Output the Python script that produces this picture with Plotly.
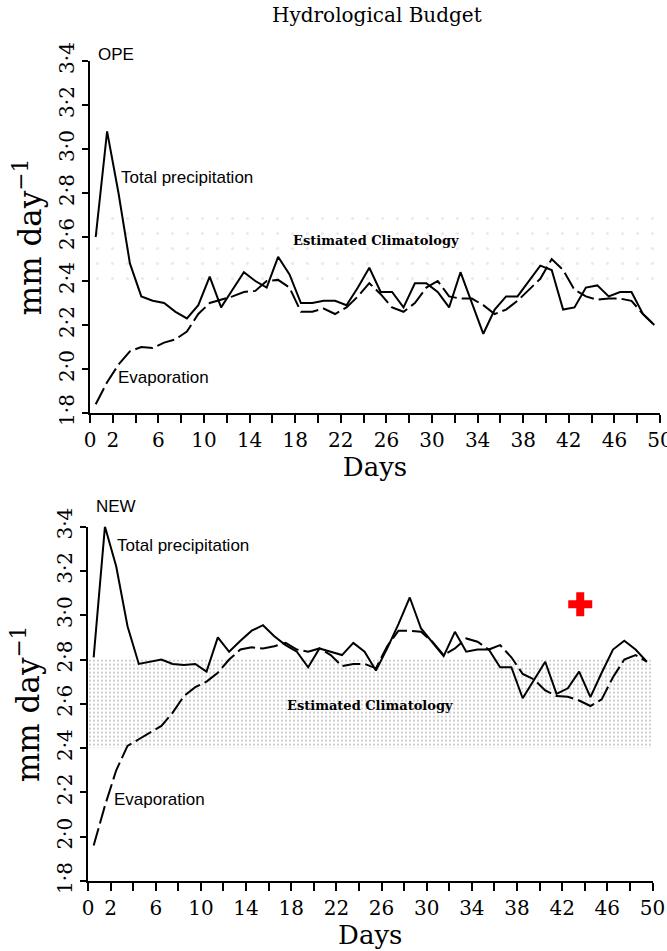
import plotly.graph_objects as go

# Day centres of the daily means
days = [i + 0.5 for i in range(50)]

# OPE experiment (mm/day)
ope_precip = [2.60, 3.08, 2.80, 2.48, 2.33, 2.31, 2.30, 2.26, 2.23, 2.29,
              2.42, 2.28, 2.36, 2.44, 2.40, 2.37, 2.51, 2.43, 2.30, 2.30,
              2.31, 2.31, 2.29, 2.37, 2.46, 2.35, 2.35, 2.28, 2.39, 2.39,
              2.35, 2.28, 2.44, 2.30, 2.16, 2.27, 2.33, 2.33, 2.40, 2.47,
              2.45, 2.27, 2.28, 2.37, 2.38, 2.33, 2.35, 2.35, 2.25, 2.20]
ope_evap = [1.84, 1.94, 2.02, 2.08, 2.10, 2.095, 2.12, 2.135, 2.17, 2.25,
            2.30, 2.315, 2.33, 2.35, 2.355, 2.40, 2.405, 2.37, 2.26, 2.26,
            2.275, 2.25, 2.28, 2.33, 2.39, 2.34, 2.28, 2.26, 2.30, 2.37,
            2.40, 2.33, 2.32, 2.32, 2.29, 2.25, 2.27, 2.31, 2.36, 2.41,
            2.50, 2.45, 2.36, 2.33, 2.315, 2.32, 2.32, 2.31, 2.25, 2.20]

# NEW experiment (mm/day)
new_precip = [2.81, 3.40, 3.22, 2.95, 2.78, 2.79, 2.80, 2.78, 2.775, 2.78,
              2.745, 2.90, 2.835, 2.885, 2.93, 2.955, 2.905, 2.865, 2.835, 2.765,
              2.85, 2.835, 2.82, 2.875, 2.835, 2.75, 2.85, 2.96, 3.08, 2.94,
              2.88, 2.815, 2.925, 2.835, 2.845, 2.845, 2.765, 2.765, 2.625, 2.71,
              2.79, 2.645, 2.67, 2.745, 2.63, 2.74, 2.845, 2.885, 2.845, 2.79]
new_evap = [1.96, 2.14, 2.30, 2.41, 2.44, 2.47, 2.50, 2.56, 2.635, 2.675,
            2.70, 2.74, 2.80, 2.845, 2.855, 2.85, 2.86, 2.875, 2.845, 2.835,
            2.85, 2.82, 2.77, 2.78, 2.78, 2.76, 2.86, 2.93, 2.93, 2.925,
            2.88, 2.82, 2.85, 2.895, 2.88, 2.845, 2.865, 2.81, 2.735, 2.71,
            2.66, 2.635, 2.632, 2.615, 2.59, 2.62, 2.72, 2.80, 2.82, 2.79]

# Estimated climatology ranges (low, high) for each panel
clim_ope = [2.40, 2.70]
clim_new = [2.40, 2.80]

# Red cross marker in the lower panel
cross_day = [43.6]
cross_val = [3.05]

y_ticks = [1.8 + 0.2 * i for i in range(9)]
y_text = [f"{v:.1f}".replace(".", "\u00b7") for v in y_ticks]
x_ticks = list(range(0, 51, 2))
x_labelled = [0] + list(range(2, 51, 4))
x_text = [str(v) if v in x_labelled else "" for v in x_ticks]

SERIF = "DejaVu Serif"
SANS = "Liberation Sans"

fig = go.Figure()


def band(lo_hi, xa, ya, fg, size, solidity):
    lo, hi = lo_hi
    fig.add_trace(go.Scatter(
        x=[0, 50, 50, 0, 0], y=[lo, lo, hi, hi, lo],
        xaxis=xa, yaxis=ya, mode="lines", fill="toself",
        line=dict(width=0), fillcolor="rgba(0,0,0,0)",
        fillpattern=dict(shape=".", fgcolor=fg, bgcolor="rgba(0,0,0,0)",
                         size=size, solidity=solidity),
        hoverinfo="skip", showlegend=False))


band(clim_ope, "x", "y", "#d6d6d6", 15, 0.035)
band(clim_new, "x2", "y2", "#808080", 4, 0.2)

for xa, ya, p, e in (("x", "y", ope_precip, ope_evap),
                     ("x2", "y2", new_precip, new_evap)):
    fig.add_trace(go.Scatter(x=days, y=p, xaxis=xa, yaxis=ya, mode="lines",
                             line=dict(color="black", width=2),
                             showlegend=False))
    fig.add_trace(go.Scatter(x=days, y=e, xaxis=xa, yaxis=ya, mode="lines",
                             line=dict(color="black", width=2, dash="18px,5px"),
                             showlegend=False))

fig.add_trace(go.Scatter(x=cross_day, y=cross_val, xaxis="x2", yaxis="y2",
                         mode="markers",
                         marker=dict(symbol="cross", size=20, color="red",
                                     line=dict(width=0)),
                         showlegend=False))

H = 951.0
W = 667.0


def ydom(top_px, bot_px):
    return [(H - bot_px) / H, (H - top_px) / H]


xaxis_common = dict(
    range=[0, 50], tickvals=x_ticks, ticktext=x_text, ticks="outside",
    ticklen=8, tickwidth=1.5, tickcolor="black", showline=True,
    linecolor="black", linewidth=1.5, showgrid=False, zeroline=False,
    automargin=False, ticklabeloverflow="allow",
    tickfont=dict(family=SERIF, size=20, color="black"),
    title=dict(text="Days", font=dict(family=SERIF, size=26, color="black"),
               standoff=2),
)
yaxis_common = dict(
    range=[1.8, 3.4], tickvals=y_ticks, ticktext=y_text, ticks="outside",
    ticklen=6, tickwidth=1.5, tickcolor="black", showline=True,
    linecolor="black", linewidth=2, showgrid=False, zeroline=False,
    tickangle=-90, automargin=False, ticklabeloverflow="allow",
    tickfont=dict(family=SERIF, size=20, color="black"),
    title=dict(text="mm day<sup>\u22121</sup>",
               font=dict(family=SERIF, size=31, color="black"), standoff=4),
)

fig.update_layout(
    width=667, height=951, autosize=False,
    margin=dict(l=0, r=0, t=0, b=0, autoexpand=False),
    paper_bgcolor="white", plot_bgcolor="white",
    xaxis=dict(domain=[90 / W, 660 / W], anchor="y", **xaxis_common),
    yaxis=dict(domain=ydom(61, 413), anchor="x", **yaxis_common),
    xaxis2=dict(domain=[88 / W, 652.5 / W], anchor="y2", **xaxis_common),
    yaxis2=dict(domain=ydom(526.6, 881), anchor="x2", **yaxis_common),
)

ann_sans = dict(family=SANS, size=17, color="black")
ann_clim = dict(family=SERIF, size=13, color="black", weight="bold")


def label(text, x, y, font, xanchor="left"):
    fig.add_annotation(text=text, x=x / W, y=1 - y / H, xref="paper",
                       yref="paper", showarrow=False, font=font,
                       xanchor=xanchor, yanchor="middle")


fig.add_annotation(text="Hydrological Budget", x=377 / W, y=1 - 15 / H,
                   xref="paper", yref="paper", showarrow=False,
                   font=dict(family=SERIF, size=20, color="black"),
                   xanchor="center", yanchor="middle")

label("OPE", 96, 55, ann_sans)
label("Total precipitation", 119, 178, ann_sans)
label("Estimated Climatology", 376, 240, ann_clim, "center")
label("Evaporation", 116, 377, ann_sans)

label("NEW", 94, 506, ann_sans)
label("Total precipitation", 115, 545, ann_sans)
label("Estimated Climatology", 370, 705, ann_clim, "center")
label("Evaporation", 112, 799, ann_sans)

fig.write_html("out.html")
